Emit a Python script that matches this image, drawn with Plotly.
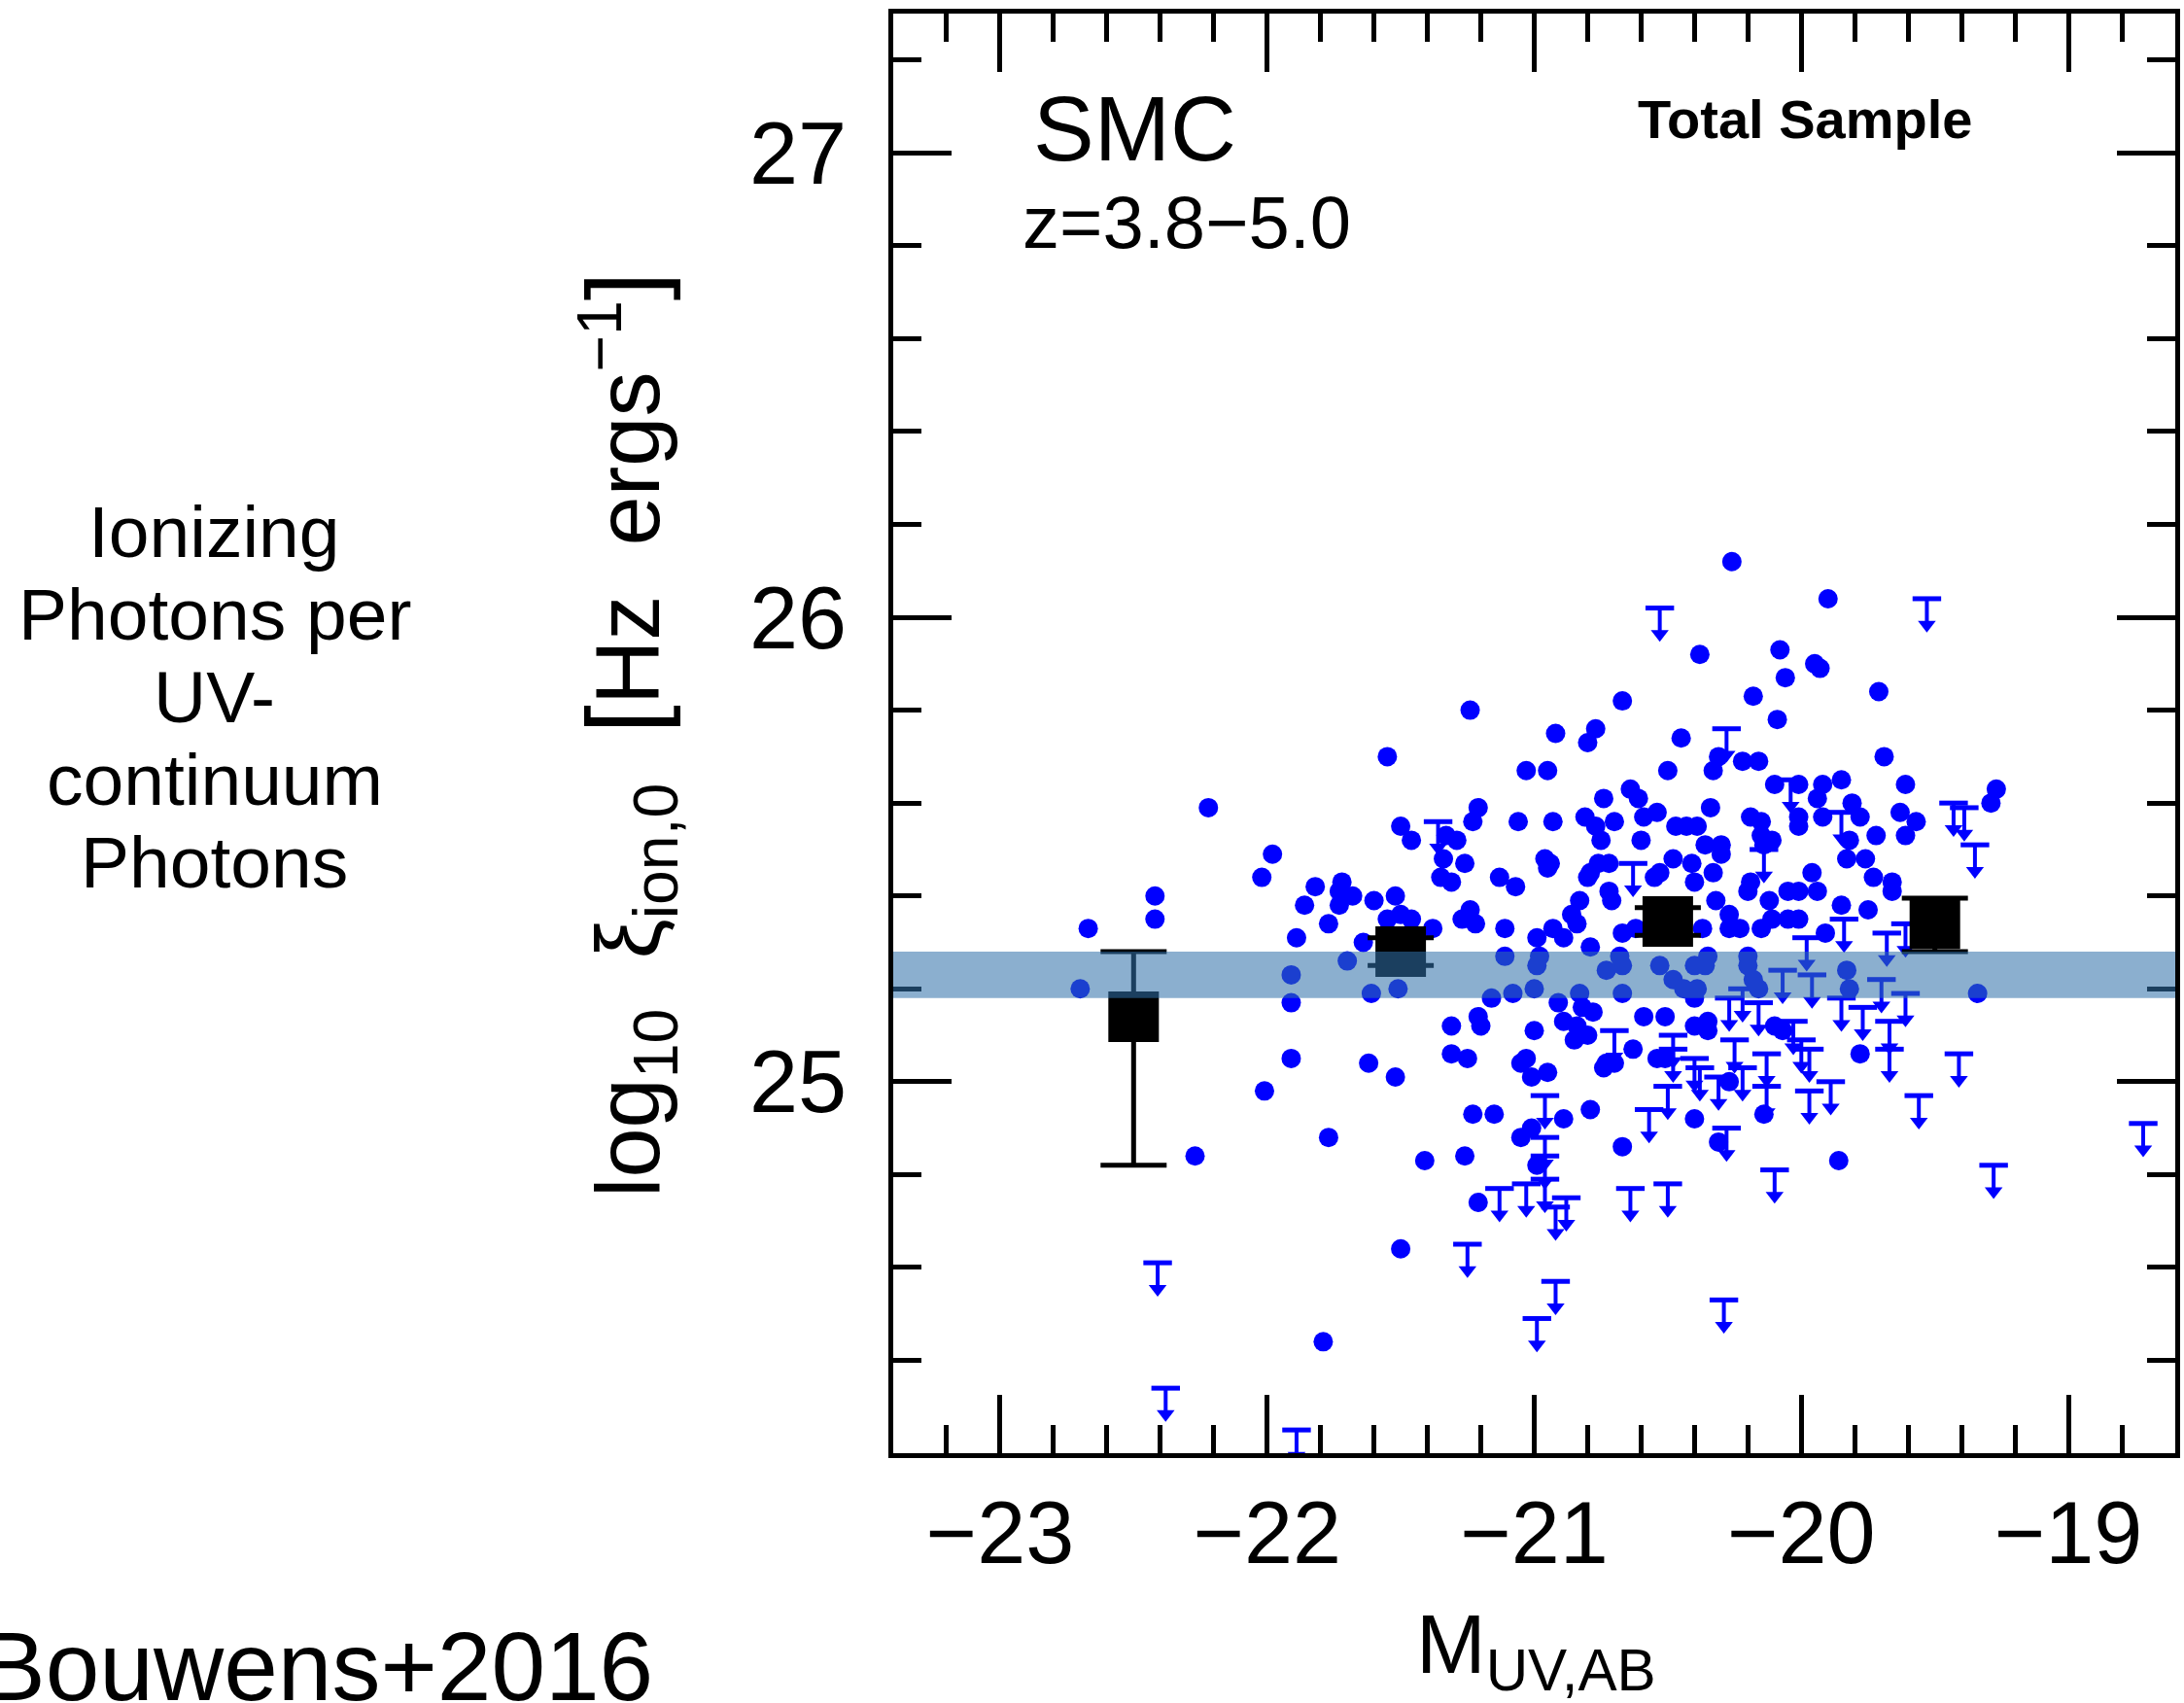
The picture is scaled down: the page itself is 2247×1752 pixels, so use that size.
import plotly.graph_objects as go

# ---------------- data ----------------
# individual galaxies (detections)
dots_x = [
    -21.55, -22.22, -21.50, -21.46, -21.98, -22.02, -22.42, -22.42, -22.67, -21.82, -21.86, -21.72,
    -21.73, -21.68, -21.73, -21.60, -21.52, -21.77, -21.89, -21.64, -21.50, -21.55, -21.46, -21.70,
    -22.70, -21.91, -21.91, -21.61, -21.51, -21.91, -21.62, -21.52, -22.01, -21.77, -22.27, -21.50,
    -21.79, -21.41,
    -20.26, -20.38, -20.08, -20.06, -20.18, -20.09, -20.67, -21.24, -20.92, -20.77, -20.80, -20.45,
    -20.31, -20.33, -20.22, -20.16, -20.50, -21.03, -20.95, -20.10, -20.74, -20.64, -20.61, -21.21,
    -21.23, -21.06, -20.93, -20.81, -20.77, -20.70, -20.75, -20.59, -20.54, -20.34, -20.47, -20.43,
    -20.39, -20.60, -20.19, -20.15, -20.15, -20.11, -20.14, -20.36, -20.30, -20.30, -21.29, -21.33,
    -21.34, -21.26, -21.35, -21.31, -21.13, -21.07, -20.96, -20.94, -20.95, -20.79, -20.76, -20.72,
    -20.80, -20.48, -20.41, -20.53, -20.55, -20.33, -20.40, -20.19, -20.20, -20.12, -20.05, -20.72,
    -20.71, -20.83, -20.86, -20.84, -21.24, -21.27, -21.22, -21.38, -21.11, -20.99, -20.93, -20.89,
    -20.79, -20.67, -20.62, -20.32, -20.27, -20.37, -20.27, -20.23, -20.15, -20.11, -20.05, -21.11,
    -20.98, -20.68, -20.35, -20.20,
    -21.16, -21.08, -21.00, -20.99, -20.83, -20.73, -20.67, -20.67, -20.53, -20.48, -20.44, -20.39,
    -20.40, -20.36, -20.18, -20.20, -20.16, -20.91, -20.89, -20.82, -20.78, -20.84, -20.80, -20.85,
    -20.59, -20.51, -20.40, -20.40, -20.35, -21.31, -21.21, -21.20, -21.00, -21.31, -21.25, -21.05,
    -21.03, -20.95, -21.01, -20.73, -20.70, -20.74, -20.63, -20.79, -20.89, -21.01, -21.05, -20.99,
    -21.23, -21.15, -21.26, -21.21, -20.67, -20.40, -20.31, -20.14, -20.27, -20.54, -20.51, -20.10,
    -20.07, -20.35,
    -19.90, -19.95, -19.93, -19.71, -19.69, -20.01, -19.92, -19.85, -19.94, -19.61, -19.27, -19.29,
    -19.81, -19.78, -19.92, -19.63, -19.57, -19.82, -19.72, -19.61, -20.01, -20.01, -19.83, -19.76,
    -19.96, -19.73, -19.66, -19.66, -20.01, -19.94, -19.85, -19.75, -20.01, -19.91,
    -19.83, -19.82, -19.34, -19.78, -19.86,
]
dots_y = [
    25.70, 25.59, 25.55, 25.52, 25.49, 25.44, 25.40, 25.35, 25.33, 25.42, 25.38, 25.43,
    25.41, 25.40, 25.38, 25.39, 25.40, 25.34, 25.31, 25.30, 25.36, 25.35, 25.35, 25.26,
    25.20, 25.23, 25.17, 25.19, 25.20, 25.05, 25.04, 25.01, 24.98, 24.88, 24.84, 24.64,
    24.44, 24.83,
    26.12, 25.92, 25.93, 25.87, 25.83, 25.78, 25.82, 25.80, 25.75, 25.76, 25.73, 25.74,
    25.70, 25.67, 25.69, 25.69, 25.67, 25.67, 25.67, 25.64, 25.61, 25.63, 25.61, 25.59,
    25.56, 25.56, 25.56, 25.57, 25.55, 25.56, 25.52, 25.57, 25.58, 25.59, 25.55, 25.55,
    25.55, 25.52, 25.57, 25.56, 25.53, 25.52, 25.51, 25.51, 25.51, 25.49, 25.52, 25.53,
    25.48, 25.47, 25.44, 25.43, 25.44, 25.42, 25.48, 25.47, 25.46, 25.45, 25.47, 25.47,
    25.44, 25.48, 25.47, 25.45, 25.44, 25.45, 25.43, 25.43, 25.41, 25.39, 25.41, 25.41,
    25.39, 25.39, 25.36, 25.34, 25.37, 25.35, 25.34, 25.33, 25.33, 25.31, 25.33, 25.31,
    25.29, 25.32, 25.33, 25.39, 25.36, 25.33, 25.33, 25.33, 25.33, 25.35, 25.35, 25.27,
    25.27, 25.27, 25.27, 25.27,
    25.18, 25.19, 25.20, 25.25, 25.19, 25.24, 25.25, 25.19, 25.25, 25.22, 25.20, 25.20,
    25.25, 25.25, 25.22, 25.25, 25.20, 25.17, 25.13, 25.16, 25.15, 25.12, 25.10, 25.09,
    25.14, 25.14, 25.18, 25.12, 25.11, 25.12, 25.14, 25.12, 25.11, 25.06, 25.05, 25.04,
    25.05, 25.02, 25.01, 25.04, 25.04, 25.03, 25.07, 24.94, 24.92, 24.90, 24.88, 24.82,
    24.93, 24.93, 24.84, 24.74, 24.86, 24.92, 24.87, 24.93, 25.00, 25.05, 25.05, 25.12,
    25.11, 25.13,
    26.04, 25.90, 25.89, 25.84, 25.70, 25.64, 25.64, 25.65, 25.61, 25.64, 25.63, 25.60,
    25.60, 25.57, 25.57, 25.58, 25.56, 25.52, 25.53, 25.53, 25.57, 25.55, 25.48, 25.48,
    25.45, 25.44, 25.43, 25.41, 25.41, 25.41, 25.38, 25.37, 25.35, 25.32,
    25.24, 25.20, 25.19, 25.06, 24.83,
]

# individual galaxies (upper limits)
ul_x = [
    -22.41, -22.38, -21.89, -21.25, -20.92,
    -20.53, -20.28, -20.04, -21.36, -20.63, -20.14,
    -20.22, -20.07, -20.70, -20.48, -20.48, -20.40, -20.38, -20.31, -20.50, -20.57, -20.28,
    -20.10, -20.64, -20.50, -20.96, -20.96, -20.96, -20.96, -21.03, -21.13, -20.88, -20.92,
    -20.99, -20.29, -20.27, -20.16, -20.25, -20.22, -20.13, -20.13,
    -19.53, -19.43, -19.39, -19.35, -19.85, -19.84, -19.98, -19.68, -19.61,
    -19.96, -19.70, -19.61, -19.85, -19.77, -19.67, -19.67, -20.00, -19.97, -19.89, -19.97,
    -19.41, -19.56, -19.28, -18.72, -20.03,
]
ul_y = [
    24.61, 24.34, 24.25, 24.65, 24.57,
    26.02, 25.76, 25.65, 25.56, 25.47, 25.50,
    25.20, 25.24, 25.11, 25.10, 25.07, 25.05, 25.03, 25.01, 24.99, 24.94, 24.90,
    24.81, 24.77, 24.78, 24.97, 24.88, 24.84, 24.79, 24.78, 24.77, 24.75, 24.73,
    24.49, 24.53, 25.18, 25.17, 25.09, 25.03, 25.06, 24.99,
    26.04, 25.60, 25.59, 25.51, 25.58, 25.35, 25.31, 25.32, 25.34,
    25.23, 25.22, 25.19, 25.18, 25.16, 25.13, 25.07, 25.09, 25.07, 25.00, 24.98,
    25.06, 24.97, 24.82, 24.91, 25.13,
]

# binned means
mean_x = [-22.5, -21.5, -20.5, -19.5]
mean_y = [25.14, 25.28, 25.345, 25.34]
mean_err_plus = [0.14, 0.03, 0.03, 0.055]
mean_err_minus = [0.32, 0.03, 0.03, 0.06]

# shaded band
band_lo = 25.18
band_hi = 25.28

x_ticks = [-23, -22, -21, -20, -19]
y_ticks = [25, 26, 27]
x_range = [-23.4, -18.6]
y_range = [24.2, 27.3]

# ---------------- figure ----------------
FONT = "Liberation Sans, Arial, sans-serif"
BLUE = "rgb(0,0,255)"
stem = 0.056

fig = go.Figure()

fig.add_trace(go.Scatter(
    x=dots_x, y=dots_y, mode="markers",
    marker=dict(symbol="circle", size=20, color=BLUE, line=dict(width=0)),
    showlegend=False, hoverinfo="skip"))

# upper limits: stem
fig.add_trace(go.Scatter(
    x=ul_x, y=ul_y, mode="markers",
    marker=dict(size=1, color="rgba(0,0,0,0)"),
    error_y=dict(type="data", symmetric=False, array=[0] * len(ul_y),
                 arrayminus=[stem] * len(ul_y), width=0, thickness=4, color=BLUE),
    showlegend=False, hoverinfo="skip"))
# upper limits: cap
fig.add_trace(go.Scatter(
    x=ul_x, y=ul_y, mode="markers",
    marker=dict(symbol="line-ew", size=21, color=BLUE, line=dict(width=5, color=BLUE)),
    showlegend=False, hoverinfo="skip"))
# upper limits: arrow head
fig.add_trace(go.Scatter(
    x=ul_x, y=[v - stem for v in ul_y], mode="markers",
    marker=dict(symbol="triangle-down", size=16, color=BLUE, line=dict(width=0)),
    showlegend=False, hoverinfo="skip"))

# binned means
fig.add_trace(go.Scatter(
    x=mean_x, y=mean_y, mode="markers",
    marker=dict(symbol="square", size=52, color="black", line=dict(width=0)),
    error_y=dict(type="data", symmetric=False, array=mean_err_plus,
                 arrayminus=mean_err_minus, width=34, thickness=5, color="black"),
    showlegend=False, hoverinfo="skip"))

fig.add_shape(type="rect", xref="paper", yref="y", x0=0, x1=1, y0=band_lo, y1=band_hi,
              fillcolor="rgba(48,113,170,0.56)", line=dict(width=0), layer="above")

axis_common = dict(
    showline=True, linecolor="black", linewidth=5, mirror="ticks",
    ticks="inside", ticklen=60, tickwidth=5, tickcolor="black",
    showgrid=False, zeroline=False,
    tickfont=dict(family=FONT, size=90, color="black"),
)

fig.update_xaxes(range=x_range, tickvals=x_ticks, ticktext=["\u2212" + str(abs(v)) for v in x_ticks],
                 minor=dict(dtick=0.2, tick0=-23, ticks="inside", ticklen=29, tickwidth=5,
                            tickcolor="black", showgrid=False),
                 ticklabelstandoff=0, **axis_common)
fig.update_yaxes(range=y_range, tickvals=y_ticks, ticktext=[str(v) for v in y_ticks],
                 minor=dict(dtick=0.2, tick0=25, ticks="inside", ticklen=29, tickwidth=5,
                            tickcolor="black", showgrid=False),
                 ticklabelstandoff=25, **axis_common)

L, R, T, B = 919, 4, 14, 257
W, H = 2247, 1752
PW, PH = W - L - R, H - T - B


def px(X):
    return (X - L) / PW


def py(Y):
    return (H - B - Y) / PH


annotations = []
annotations.append(dict(text="SMC", x=px(1168), y=py(132), xref="paper", yref="paper",
                        showarrow=False, xanchor="center", yanchor="middle",
                        font=dict(family=FONT, size=94, color="black")))
annotations.append(dict(text="z=3.8\u22125.0", x=px(1050), y=py(228), xref="paper", yref="paper",
                        showarrow=False, xanchor="left", yanchor="middle",
                        font=dict(family=FONT, size=76, color="black")))
annotations.append(dict(text="<b>Total Sample</b>", x=px(1861), y=py(123), xref="paper", yref="paper",
                        showarrow=False, xanchor="center", yanchor="middle",
                        font=dict(family=FONT, size=56, color="black")))
annotations.append(dict(text="M<sub>UV,AB</sub>", x=px(1583), y=py(1698), xref="paper", yref="paper",
                        showarrow=False, xanchor="center", yanchor="middle",
                        font=dict(family=FONT, size=86, color="black")))
annotations.append(dict(
    text="log<sub>10</sub>&nbsp; \u03be<sub>ion,0</sub>&nbsp; <span style=\"font-size:106px\">[</span>Hz&nbsp; ergs<sup>\u22121</sup><span style=\"font-size:106px\">]</span>",
    x=px(645), y=py(756), xref="paper", yref="paper", textangle=-90,
    showarrow=False, xanchor="center", yanchor="middle",
    font=dict(family=FONT, size=92, color="black")))

left_lines = ["Ionizing", "Photons per", "UV-", "continuum", "Photons"]
left_y = [547, 632, 717, 802, 887]
for t, yy in zip(left_lines, left_y):
    annotations.append(dict(text=t, x=px(218), y=py(yy), xref="paper", yref="paper",
                            showarrow=False, xanchor="center", yanchor="middle",
                            font=dict(family=FONT, size=75, color="black")))

annotations.append(dict(text="Bouwens+2016", x=px(673), y=py(1714), xref="paper", yref="paper",
                        showarrow=False, xanchor="right", yanchor="middle",
                        font=dict(family=FONT, size=100, color="black")))

fig.update_layout(
    width=W, height=H,
    margin=dict(l=L, r=R, t=T, b=B),
    paper_bgcolor="white", plot_bgcolor="white",
    showlegend=False,
    annotations=annotations,
)

fig.write_html("out.html")
